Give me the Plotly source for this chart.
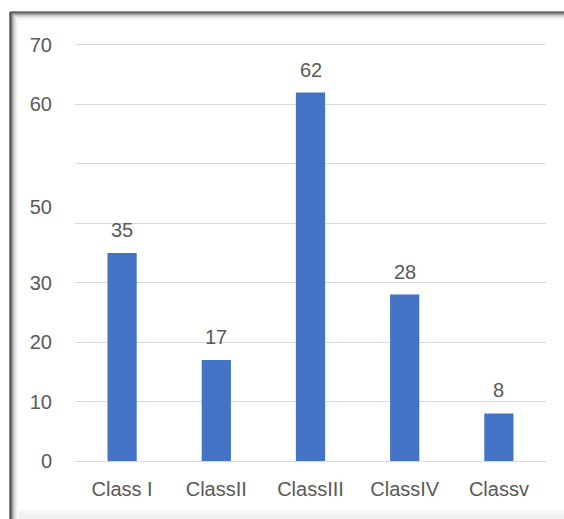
import plotly.graph_objects as go

# Students per class
classes = ["Class I", "ClassII", "ClassIII", "ClassIV", "Classv"]
students = [35, 17, 62, 28, 8]

# Value axis: gridlines every 10, labels as printed on the axis
grid_vals = [0, 10, 20, 30, 40, 50, 60, 70]
label_vals = [0, 10, 20, 30, 42.8, 60, 70]
label_text = ["0", "10", "20", "30", "50", "60", "70"]

W, H = 564, 519
ML, MR, MT, MB = 75, 18, 42, 55
PW, PH = W - ML - MR, H - MT - MB
Y_RANGE = [-0.5, 70.5]

BAR = "#4472C4"
TXT = "#595959"
GRID = "#d9d9d9"
FONT = "Liberation Sans"


def px(x):
    return (x - ML) / PW


def py(y):
    return (H - MB - y) / PH


fig = go.Figure()
fig.add_trace(go.Bar(
    x=classes, y=students, marker=dict(color=BAR, line=dict(width=0)),
    hoverinfo="x+y", showlegend=False,
))
# invisible companion so the label axis is rendered
fig.add_trace(go.Scatter(
    x=classes, y=students, yaxis="y2", mode="markers",
    marker=dict(opacity=0), hoverinfo="skip", showlegend=False,
))

for c, v in zip(classes, students):
    fig.add_annotation(
        x=c, y=v, text=str(v), showarrow=False, yanchor="bottom", yshift=10,
        font=dict(family=FONT, size=20, color=TXT),
    )

# window frame: dark top/left edges with a soft inner shadow, grey bottom strip
shapes = []
shadow = ["#2b2b2b", "#3a3a3a", "#6e6e6e", "#9a9a9a", "#bdbdbd", "#d6d6d6", "#e7e7e7", "#f2f2f2", "#f8f8f8"]
for i, col in enumerate(shadow):
    shapes.append(dict(type="line", xref="paper", yref="paper",
                       x0=px(10 + i), x1=px(10 + i), y0=py(12 + i), y1=py(H),
                       line=dict(color=col, width=1.2)))
    shapes.append(dict(type="line", xref="paper", yref="paper",
                       x0=px(10 + i), x1=px(W), y0=py(12 + i), y1=py(12 + i),
                       line=dict(color=col, width=1.2)))
shapes.append(dict(type="rect", xref="paper", yref="paper",
                   x0=px(10 + len(shadow)), x1=px(W), y0=py(510), y1=py(513),
                   fillcolor="#f8f8f8", line=dict(width=0)))
shapes.append(dict(type="rect", xref="paper", yref="paper",
                   x0=px(10 + len(shadow)), x1=px(W), y0=py(513), y1=py(H),
                   fillcolor="#f0f0f0", line=dict(width=0)))

fig.update_layout(
    width=W, height=H,
    margin=dict(l=ML, r=MR, t=MT, b=MB),
    paper_bgcolor="white", plot_bgcolor="white",
    bargap=0.69,
    font=dict(family=FONT, size=20, color=TXT),
    shapes=shapes,
    xaxis=dict(
        type="category", showgrid=False, zeroline=False, showline=False,
        ticks="", ticklabelstandoff=11,
        tickfont=dict(family=FONT, size=20, color=TXT),
    ),
    yaxis=dict(
        range=Y_RANGE, tickvals=grid_vals, showticklabels=False,
        showgrid=True, gridcolor=GRID, gridwidth=1.3,
        zeroline=True, zerolinecolor=GRID, zerolinewidth=1.3,
        showline=False, ticks="",
    ),
    yaxis2=dict(
        overlaying="y", side="left", range=Y_RANGE,
        tickvals=label_vals, ticktext=label_text,
        showgrid=False, zeroline=False, showline=False, ticks="",
        ticklabelstandoff=22,
        tickfont=dict(family=FONT, size=20, color=TXT),
    ),
)

fig.write_html("out.html")
